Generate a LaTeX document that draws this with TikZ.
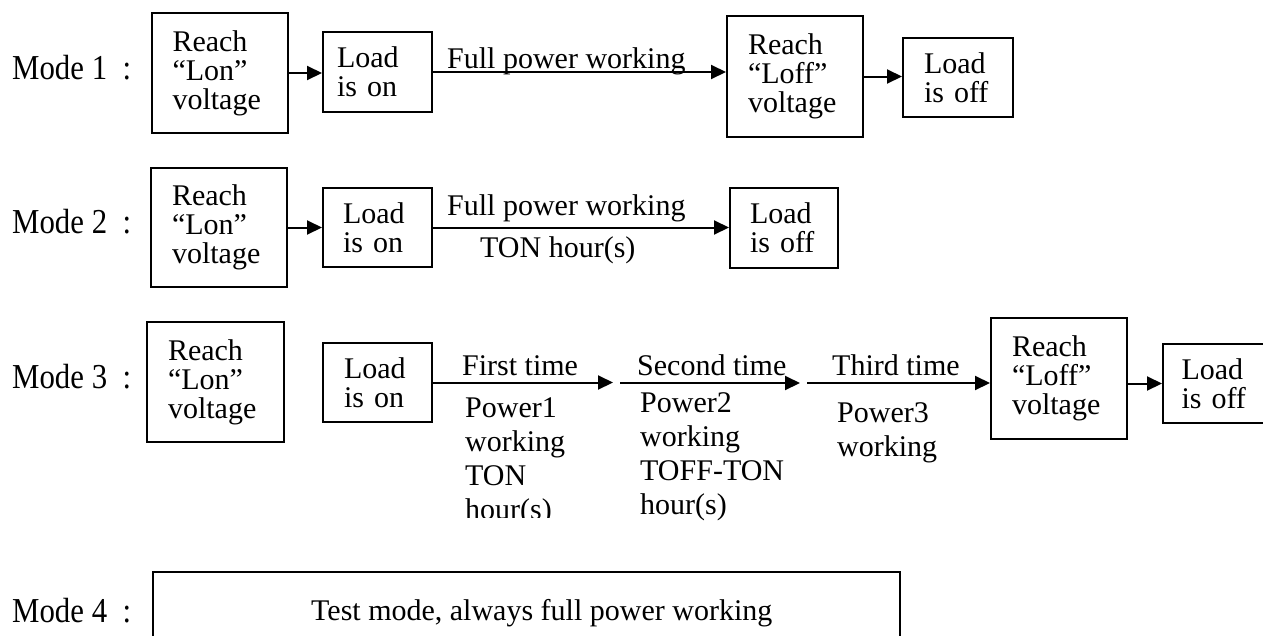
\documentclass[tikz,border=0pt]{standalone}
\usepackage{fontspec}
\setmainfont{Liberation Serif}
\usepackage{graphicx}
\usetikzlibrary{arrows.meta}
\tikzset{
  conn/.style={line width=2pt,-{Triangle[length=15pt,width=14pt]}},
  bigbox/.style={draw,line width=2pt,minimum height=120pt,text width=94pt,inner xsep=21pt,align=left,font=\fontsize{30}{29}\selectfont},
  smallbox/.style={draw,line width=2pt,minimum height=80pt,text width=69pt,inner xsep=20pt,align=left,font=\fontsize{30}{29}\selectfont},
  lbl/.style={font=\fontsize{30}{34}\selectfont,inner sep=0pt,anchor=base west,align=left},
  modelbl/.style={font=\fontsize{35}{35}\selectfont,inner sep=0pt,anchor=base west},
}
\newcommand{\modetext}[1]{\scalebox{0.88}[1]{Mode #1\hspace{0.5em}:}}
\begin{document}
\begin{tikzpicture}[x=1pt,y=-1pt]
\useasboundingbox (0,0) rectangle (1263,635);
% ---------- Mode 1 ----------
\node[modelbl] (m1) at (12,79) {\modetext{1}};
\node[bigbox] (A1) at (219.5,73) {Reach\\“Lon”\\voltage};
\node[smallbox,text width=81pt,inner xsep=14pt] (B1) at (377.5,72) {Load\\is on};
\node[bigbox,minimum height=121pt] (C1) at (795,76.5) {Reach\\“Loff”\\voltage};
\node[smallbox,minimum height=79pt,text width=68pt,inner xsep=21pt] (D1) at (958,77.5) {Load\\is off};
\draw[conn] (A1.east) -- (A1.east -| B1.west);
\draw[conn] (B1.east) -- (B1.east -| C1.west);
\draw[conn] (C1.east) -- (C1.east -| D1.west);
\node[lbl] (t11) at (447,68) {Full power working};
% ---------- Mode 2 ----------
\node[modelbl] (m2) at (12,233) {\modetext{2}};
\node[bigbox,minimum height=119pt] (A2) at (219,227.5) {Reach\\“Lon”\\voltage};
\node[smallbox,minimum height=79pt] (B2) at (377.5,227.5) {Load\\is on};
\node[smallbox,text width=68pt,inner xsep=20pt] (C2) at (784,228) {Load\\is off};
\draw[conn] (A2.east) -- (A2.east -| B2.west);
\draw[conn] (B2.east) -- (B2.east -| C2.west);
\node[lbl] (t21) at (447,215) {Full power working};
\node[lbl] (t22) at (480,257) {TON hour(s)};
% ---------- Mode 3 ----------
\node[modelbl] (m3) at (12,388) {\modetext{3}};
\node[bigbox,text width=95pt] (A3) at (215.5,382) {Reach\\“Lon”\\voltage};
\node[smallbox,minimum height=79pt,text width=67pt,inner xsep=21pt] (B3) at (377.5,382.5) {Load\\is on};
\node[bigbox,minimum height=121pt] (C3) at (1059,378.5) {Reach\\“Loff”\\voltage};
\node[smallbox,minimum height=79pt,text width=70pt,inner xsep=18.5pt] (D3) at (1216.5,383.5) {Load\\is off};
\coordinate (q1) at (613,383);
\coordinate (q2) at (620,383);
\coordinate (q3) at (800,383);
\coordinate (q4) at (807,383);
\draw[conn] (B3.east) -- (B3.east -| q1);
\draw[conn] (q2) -- (q3);
\draw[conn] (q4) -- (q4 -| C3.west);
\draw[conn] (D3.west -| C3.east) -- (D3.west);
\node[lbl] (t31) at (462,375) {First time};
\node[lbl] (t32) at (637,375) {Second time};
\node[lbl] (t33) at (832,375) {Third time};
\begin{scope}
  \clip (440,390) rectangle (615,517);
  \node[lbl] (p1) at (465,519) {Power1\\working\\TON\\hour(s)};
\end{scope}
\node[lbl] (p2) at (640,514) {Power2\\working\\TOFF-TON\\hour(s)};
\node[lbl] (p3) at (837,456) {Power3\\working};
% ---------- Mode 4 ----------
\node[modelbl] (m4) at (12,622) {\modetext{4}};
\node[draw,line width=2pt,minimum width=747pt,minimum height=120pt,inner sep=0pt] (M4) at (526.5,632) {};
\node[lbl] (t41) at (311,620) {Test mode, always full power working};
\end{tikzpicture}
\end{document}
